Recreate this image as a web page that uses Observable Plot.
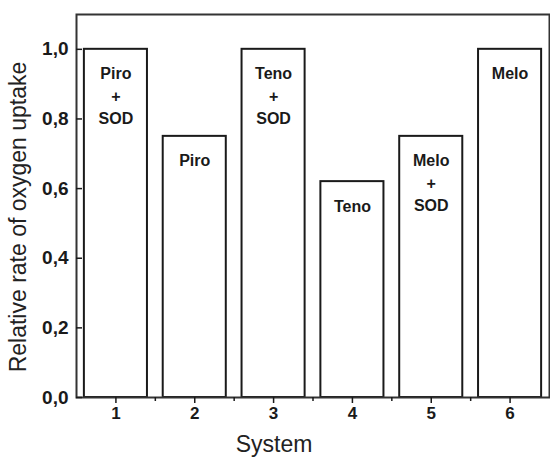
<!DOCTYPE html>
<html>
<head>
<meta charset="utf-8">
<script src="https://cdn.jsdelivr.net/npm/d3@7"></script>
<script src="https://cdn.jsdelivr.net/npm/@observablehq/plot@0.6"></script>
<style>
  html, body { margin: 0; padding: 0; background: #fff; }
  #chart { width: 550px; height: 461px; }
</style>
</head>
<body>
<div id="chart"></div>
<script>
// Data
const systems = [1, 2, 3, 4, 5, 6];
const values = [1.0, 0.75, 1.0, 0.62, 0.75, 1.0];
const barLabels = ["Piro\n+\nSOD", "Piro", "Teno\n+\nSOD", "Teno", "Melo\n+\nSOD", "Melo"];
const yTicks = [0, 0.2, 0.4, 0.6, 0.8, 1.0];
const xMinorTicks = [1.5, 2.5, 3.5, 4.5, 5.5];
const xTitle = "System";
const yTitle = "Relative rate of oxygen uptake";

const data = systems.map((s, i) => ({system: s, value: values[i], label: barLabels[i]}));
const fmt = d => d.toFixed(1).replace(".", ",");
const ink = "#1a1a1a";
const blank = () => "";

const chart = Plot.plot({
  width: 550,
  height: 461,
  marginLeft: 76,
  marginRight: 1,
  marginTop: 14,
  marginBottom: 64,
  style: {fontFamily: "'Liberation Sans', Arial, sans-serif", color: ink, background: "#fff"},
  x: {type: "linear", domain: [0.5, 6.5]},
  y: {domain: [0, 1.1]},
  marks: [
    Plot.rectY(data, {
      x1: d => d.system - 0.4,
      x2: d => d.system + 0.4,
      y: "value",
      fill: "white",
      stroke: ink,
      strokeWidth: 2
    }),
    Plot.text(data, {
      x: "system",
      y: "value",
      text: "label",
      lineAnchor: "top",
      dy: 14,
      fontSize: 16,
      fontWeight: "bold",
      lineHeight: 1.4,
      fill: ink
    }),
    Plot.frame({stroke: "#333", strokeWidth: 2}),
    // y ticks (inward)
    Plot.axisY({ticks: yTicks, tickSize: -6, tickFormat: blank, label: null, stroke: ink, strokeWidth: 1.5}),
    // x major and minor ticks (outward)
    Plot.axisX({ticks: systems, tickSize: 6, tickFormat: blank, label: null, stroke: ink, strokeWidth: 1.5}),
    Plot.axisX({ticks: xMinorTicks, tickSize: 4, tickFormat: blank, label: null, stroke: ink, strokeWidth: 1.5}),
    // tick labels
    Plot.text(yTicks, {y: d => d, text: fmt, frameAnchor: "left", textAnchor: "end", dx: -8, fontSize: 19, fontWeight: "bold", fill: ink}),
    Plot.text(systems, {x: d => d, text: d => String(d), frameAnchor: "bottom", lineAnchor: "top", dy: 9, fontSize: 17, fontWeight: "bold", fill: ink}),
    // axis titles
    Plot.text([yTitle], {frameAnchor: "left", textAnchor: "middle", rotate: -90, dx: -58, dy: 11, fontSize: 23, fill: "#222"}),
    Plot.text([xTitle], {frameAnchor: "bottom", textAnchor: "middle", dx: -39, dy: 54, fontSize: 23, fill: "#222"})
  ]
});
document.getElementById("chart").appendChild(chart);
</script>
</body>
</html>
